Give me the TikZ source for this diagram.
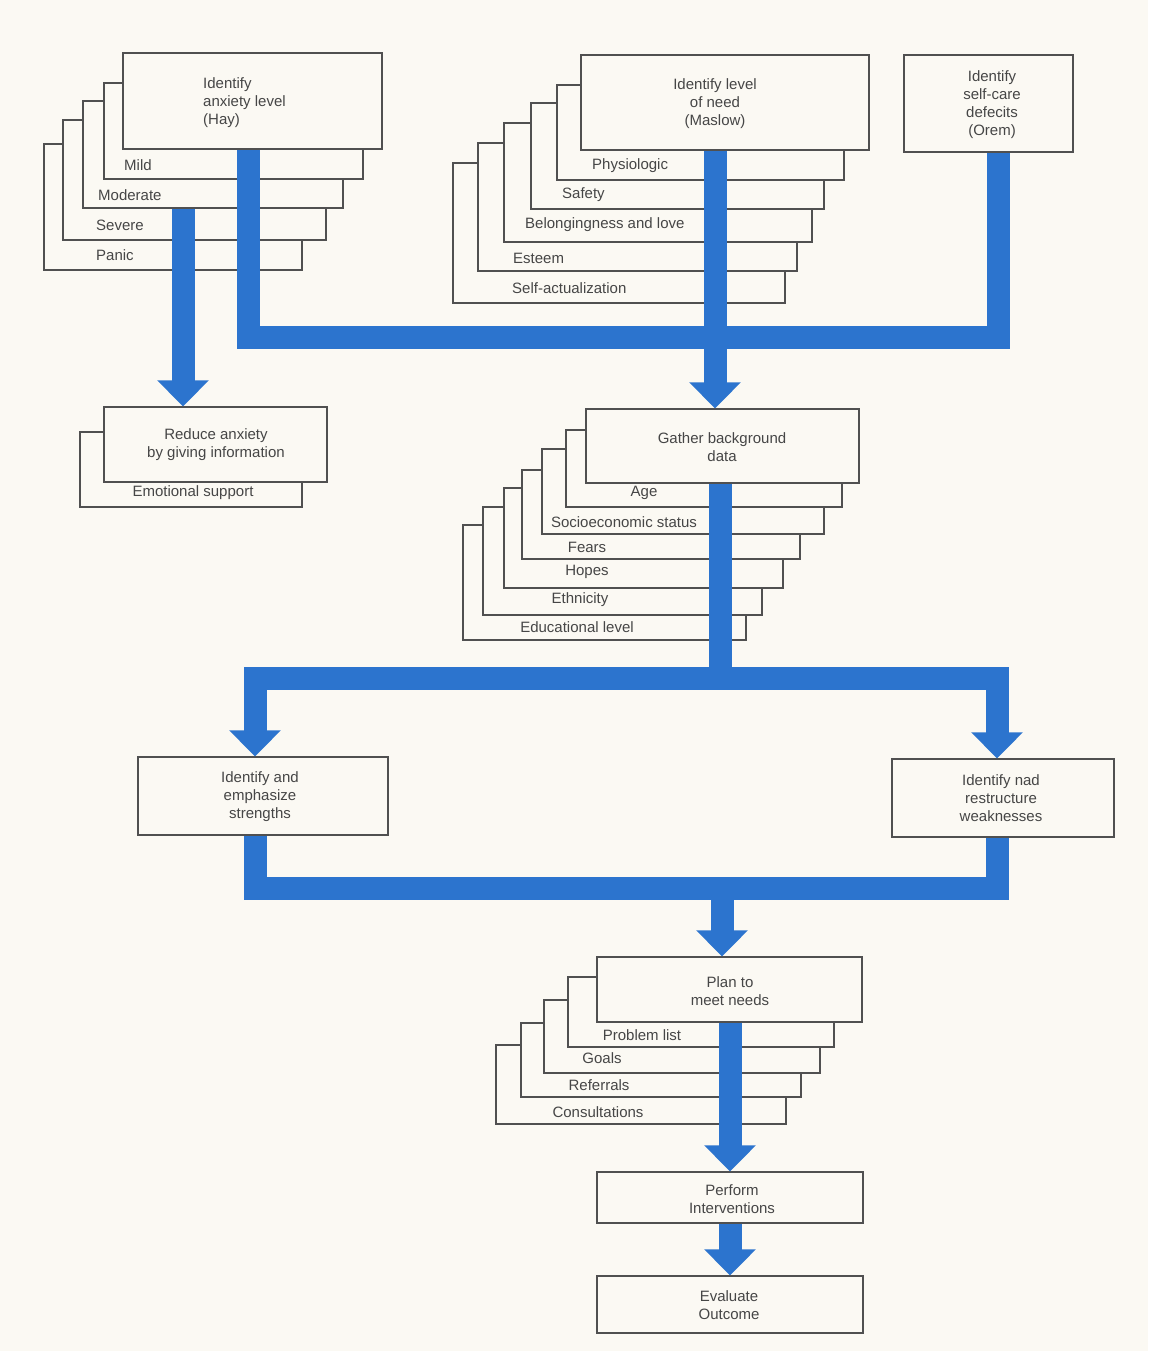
\documentclass[tikz,border=0pt]{standalone}
\usepackage{fontspec}
\setmainfont{Liberation Sans}
\usetikzlibrary{arrows.meta,fit}
\definecolor{paper}{RGB}{251,249,243}
\definecolor{boxline}{RGB}{80,80,80}
\definecolor{ink}{RGB}{70,70,70}
\definecolor{flowblue}{RGB}{44,116,206}

\begin{document}
\begin{tikzpicture}[x=1pt,y=-1pt,
    card/.style={draw=boxline, fill=paper, line width=1.2pt, inner sep=0pt},
    lbl/.style={text=ink, inner sep=0pt, font=\fontsize{15}{18}\selectfont},
    boxtxt/.style={lbl, align=center},
    flow/.style={draw=flowblue, line width=23pt, line join=miter},
    arr/.style={flow, -{Triangle[width=50pt,length=26pt]}}]

                \fill[paper] (0,0) rectangle (1148,1351);
                \useasboundingbox (0,0) rectangle (1148,1351);

                % anxiety levels
                \node[card, fit={(44,144) (302,270)}] (panic) {};
                \node[lbl, anchor=west] (panictxt) at (96,255) {Panic};
                \node[card, fit={(63,120) (326,240)}] (severe) {};
                \node[lbl, anchor=west] (severetxt) at (96,225) {Severe};
                \node[card, fit={(83,101) (343,208)}] (moderate) {};
                \node[lbl, anchor=west] (moderatetxt) at (98,195) {Moderate};
                \node[card, fit={(104,83) (363,179)}] (mild) {};
                \node[lbl, anchor=west] (mildtxt) at (124,165) {Mild};
                \node[card, fit={(123,53) (382,149)}] (hay) {};
                \node[boxtxt, align=left, anchor=west] (haytxt) at (203,103) {Identify\\anxiety level\\(Hay)};

                % levels of need
                \node[card, fit={(453,163) (785,303)}] (selfact) {};
                \node[lbl, anchor=west] (selfacttxt) at (512,288) {Self-actualization};
                \node[card, fit={(478,143) (797,271)}] (esteem) {};
                \node[lbl, anchor=west] (esteemtxt) at (513,258) {Esteem};
                \node[card, fit={(504,123) (812,242)}] (belong) {};
                \node[lbl, anchor=west] (belongtxt) at (525,225) {Belongingness and love};
                \node[card, fit={(531,103) (824,209)}] (safety) {};
                \node[lbl, anchor=west] (safetytxt) at (562,195) {Safety};
                \node[card, fit={(557,85) (844,180)}] (physio) {};
                \node[lbl, anchor=west] (physiotxt) at (592,166) {Physiologic};
                \node[card, fit={(581,55) (869,150)}] (maslow) {};
                \node[boxtxt] (maslowtxt) at (715,104) {Identify level\\of need\\(Maslow)};

                \node[card, fit={(904,55) (1073,152)}] (orem) {};
                \node[boxtxt] (oremtxt) at (992,105) {Identify\\self-care\\defecits\\(Orem)};

                % reduce anxiety
                \node[card, fit={(80,432) (302,507)}] (emotional) {};
                \node[lbl] (emotionaltxt) at (193,493) {Emotional support};
                \node[card, fit={(104,407) (327,482)}] (reduce) {};
                \node[boxtxt] (reducetxt) at (216,445) {Reduce anxiety\\by giving information};

                % background data
                \node[card, fit={(463,525) (746,640)}] (educ) {};
                \node[lbl] (eductxt) at (577,627) {Educational level};
                \node[card, fit={(483,507) (762,615)}] (ethnic) {};
                \node[lbl] (ethnictxt) at (580,600) {Ethnicity};
                \node[card, fit={(504,488) (783,588)}] (hopes) {};
                \node[lbl] (hopestxt) at (587,572) {Hopes};
                \node[card, fit={(522,470) (800,559)}] (fears) {};
                \node[lbl] (fearstxt) at (587,547) {Fears};
                \node[card, fit={(542,449) (824,534)}] (socio) {};
                \node[lbl] (sociotxt) at (624,522) {Socioeconomic status};
                \node[card, fit={(566,430) (842,507)}] (age) {};
                \node[lbl] (agetxt) at (644,493) {Age};
                \node[card, fit={(586,409) (859,483)}] (gather) {};
                \node[boxtxt] (gathertxt) at (722,447) {Gather background\\data};

                \node[card, fit={(138,757) (388,835)}] (strengths) {};
                \node[boxtxt] (strengthstxt) at (260,797) {Identify and\\emphasize\\strengths};
                \node[card, fit={(892,759) (1114,837)}] (weak) {};
                \node[boxtxt] (weaktxt) at (1001,798) {Identify nad\\restructure\\weaknesses};

                % plan
                \node[card, fit={(496,1045) (786,1124)}] (consult) {};
                \node[lbl] (consulttxt) at (598,1112) {Consultations};
                \node[card, fit={(521,1023) (801,1097)}] (referrals) {};
                \node[lbl] (referralstxt) at (599,1085) {Referrals};
                \node[card, fit={(544,1000) (820,1073)}] (goals) {};
                \node[lbl] (goalstxt) at (602,1058) {Goals};
                \node[card, fit={(568,977) (834,1047)}] (problem) {};
                \node[lbl] (problemtxt) at (642,1035) {Problem list};
                \node[card, fit={(597,957) (862,1022)}] (plan) {};
                \node[boxtxt] (plantxt) at (730,991) {Plan to\\meet needs};

                \node[card, fit={(597,1172) (863,1223)}] (perform) {};
                \node[boxtxt] (performtxt) at (732,1199) {Perform\\Interventions};
                \node[card, fit={(597,1276) (863,1333)}] (evaluate) {};
                \node[boxtxt] (evaluatetxt) at (729,1305) {Evaluate\\Outcome};

                % blue flow
                \coordinate (colH) at (183,0);
                \coordinate (topL) at (248,337);
                \coordinate (topR) at (998,337);
                \coordinate (colM) at (715,0);
                \coordinate (colG) at (720,0);
                \coordinate (splitL) at (255,678);
                \coordinate (splitR) at (997,678);
                \coordinate (mergeL) at (255,888);
                \coordinate (mergeR) at (997,888);
                \coordinate (colP) at (722,0);
                \coordinate (colQ) at (730,0);

                \draw[arr] (moderate.south -| colH) -- (reduce.north -| colH);
                \draw[flow] (hay.south -| topL) -- (topL) -- (topR) -- (orem.south -| topR);
                \draw[arr] (maslow.south -| colM) -- (gather.north -| colM);
                \draw[flow] (gather.south -| colG) -- (splitL -| colG);
                \draw[flow, {Triangle[width=50pt,length=26pt]}-{Triangle[width=50pt,length=26pt]}] (strengths.north -| splitL) -- (splitL) -- (splitR) -- (weak.north -| splitR);
                \draw[flow] (strengths.south -| mergeL) -- (mergeL) -- (mergeR) -- (weak.south -| mergeR);
                \draw[arr] (mergeL -| colP) -- (plan.north -| colP);
                \draw[arr] (plan.south -| colQ) -- (perform.north -| colQ);
                \draw[arr] (perform.south -| colQ) -- (evaluate.north -| colQ);
            \end{tikzpicture}
\end{document}
